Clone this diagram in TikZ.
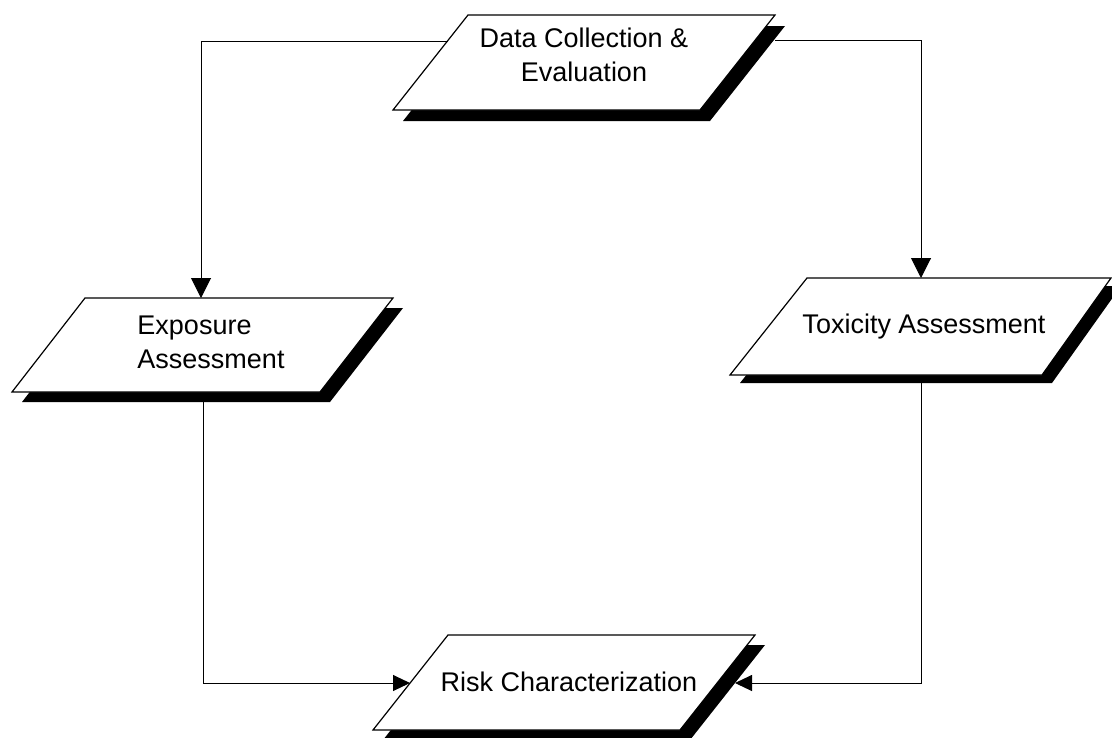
\documentclass[tikz,border=0pt]{standalone}
\usepackage{fontspec}
\setmainfont{Liberation Sans}
\usetikzlibrary{arrows.meta}
\tikzset{
  shadowfill/.style={fill=black, draw=none},
  parbox/.style={fill=white, draw=black, line width=1.2pt, line join=miter},
  lbl/.style={font=\fontsize{27}{34}\selectfont, inner sep=0pt, align=center},
  conn/.style={draw=black, line width=1pt},
  tipbig/.style={-{Triangle[length=20pt,width=20pt]}},
  tipsmall/.style={-{Triangle[length=17pt,width=16pt]}}
}
\begin{document}
\begin{tikzpicture}[x=1pt,y=-1pt]
\useasboundingbox (0,0) rectangle (1112,737);
% Data Collection & Evaluation
\fill[shadowfill] (478,26) -- (785,26) -- (710,121) -- (403,121) -- cycle;
\draw[parbox] (468,15) -- (775,15) -- (700,110) -- (393,110) -- cycle;
\node[lbl] (dc) at (584,55) {Data Collection \&\\Evaluation};
% Exposure Assessment
\fill[shadowfill] (95,308) -- (403,308) -- (330,402) -- (22,402) -- cycle;
\draw[parbox] (85,298) -- (393,298) -- (320,392) -- (12,392) -- cycle;
\node[lbl, align=left] (exp) at (211,342) {Exposure\\Assessment};
% Toxicity Assessment
\fill[shadowfill] (817,286) -- (1121,286) -- (1052,383) -- (740,383) -- cycle;
\draw[parbox] (807,278) -- (1111,278) -- (1042,375) -- (730,375) -- cycle;
\node[lbl] (tox) at (924,327) {Toxicity Assessment};
% Risk Characterization
\fill[shadowfill] (458,645) -- (765,645) -- (690,740) -- (383,740) -- cycle;
\draw[parbox] (448,635) -- (755,635) -- (680,730) -- (373,730) -- cycle;
\node[lbl] (risk) at (569,682) {Risk Characterization};
% connection points
\coordinate (dcL) at (448,41);
\coordinate (dcR) at (775,40);
\coordinate (expT) at (201,298);
\coordinate (expB) at (203,402);
\coordinate (toxT) at (921,278);
\coordinate (toxB) at (921,383);
\coordinate (riskL) at (410,683);
\coordinate (riskR) at (735,683);
% connectors
\draw[conn, tipbig] (dcL) -| (expT);
\draw[conn, tipbig] (dcR) -| (toxT);
\draw[conn, tipsmall] (expB) |- (riskL);
\draw[conn, tipsmall] (toxB) |- (riskR);
\end{tikzpicture}
\end{document}
